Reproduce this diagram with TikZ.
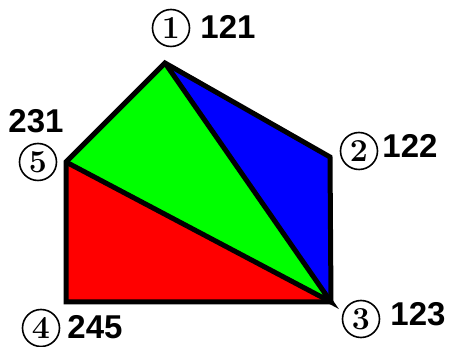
\documentclass[tikz,border=0pt]{standalone}
\usepackage{fontspec}
\newfontfamily\numfont{Liberation Sans}
\usetikzlibrary{positioning}

\begin{document}
\begin{tikzpicture}[x=1pt,y=-1pt,
  edge/.style={line width=5pt,line join=miter},
  num/.style={font=\numfont\bfseries\fontsize{33}{33}\selectfont,inner sep=0pt},
  idx/.style={circle,draw,line width=1.6pt,minimum size=37pt,inner sep=0pt,
    font=\bfseries\fontsize{32}{32}\selectfont}]
  \useasboundingbox (0,0) rectangle (451,347);
  % corners of the pentagon
  \coordinate (v1) at (165,63);
  \coordinate (v2) at (330,157);
  \coordinate (v3) at (331,302);
  \coordinate (v4) at (66,302);
  \coordinate (v5) at (66,162);
  % the three triangles
  \fill[green] (v1) -- (v5) -- (v3) -- cycle;
  \fill[blue] (v1) -- (v2) -- (v3) -- cycle;
  \fill[red] (v5) -- (v4) -- (v3) -- cycle;
  \draw[edge] (v1) -- (v2) -- (v3) -- (v4) -- (v5) -- cycle;
  \draw[edge] (v1) -- (v3) -- (v5);
  % labels
  \foreach \n/\x/\y in {1/171/28,2/359/151,3/361/319,4/41/328,5/38/162}
    \node[idx] (c\n) at (\x,\y) {\n};
  \foreach \n/\t/\x/\y in {1/121/228/27,2/122/410/146,3/123/418/314,4/245/95/327,5/231/36/121}
    \node[num] (t\n) at (\x,\y) {\t};
\end{tikzpicture}
\end{document}
